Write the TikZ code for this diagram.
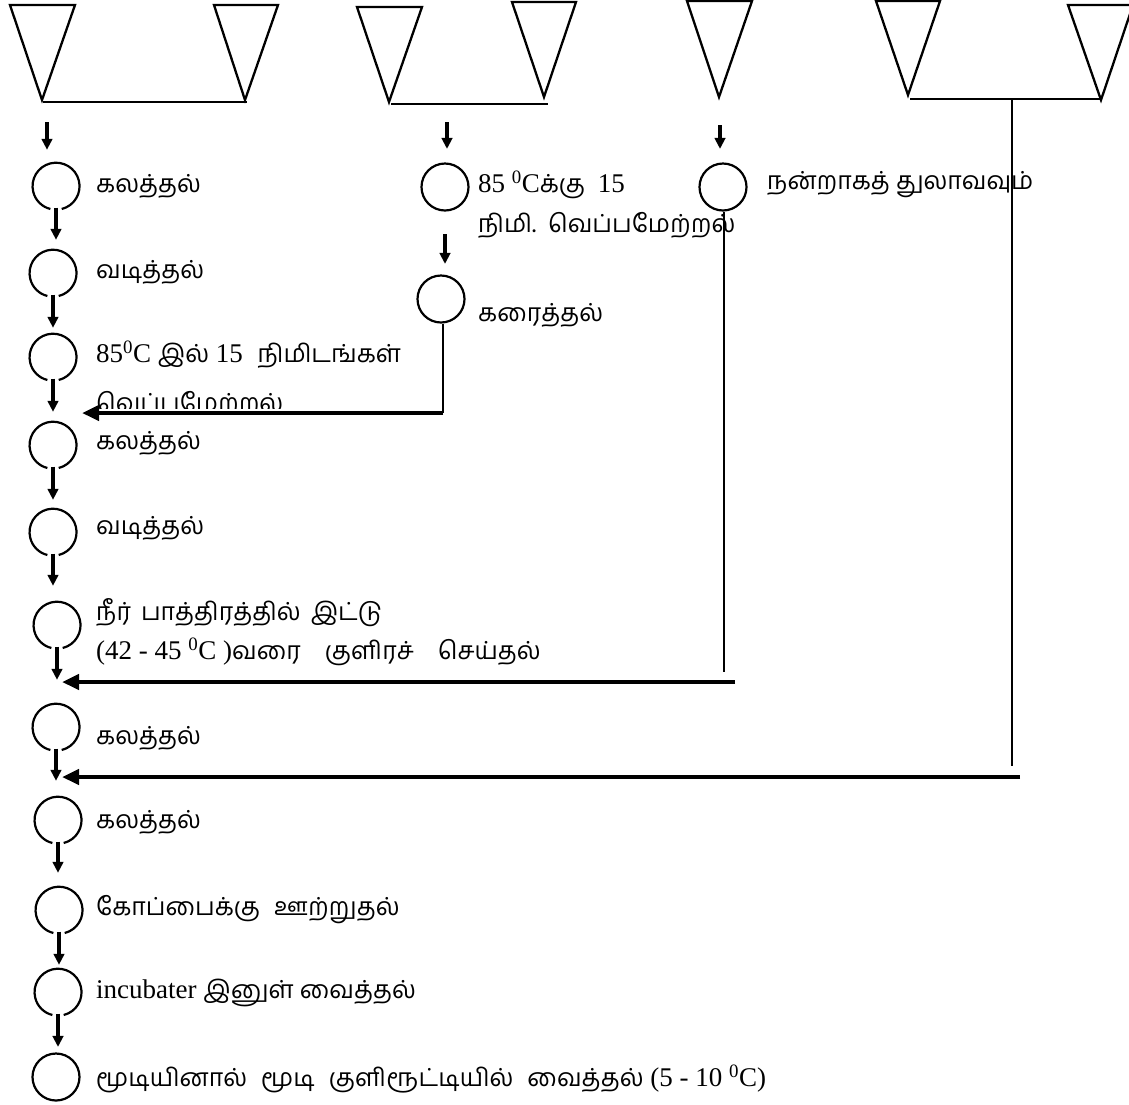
\documentclass[tikz,border=0pt]{standalone}
\usepackage{fontspec}
\setmainfont{Liberation Serif}
\newfontfamily\tamfont[Script=Tamil,Scale=0.92]{Hind Madurai}
\newcommand\tmx[1]{{\tamfont #1}}
\usetikzlibrary{arrows.meta}
\begin{document}
\begin{tikzpicture}[x=1pt,y=-1pt,
  tri/.style={draw, line width=2.3pt, line join=miter},
  bar/.style={line width=2.8pt},
  vline/.style={line width=2pt},
  darr/.style={line width=3.5pt, -{Triangle[length=11pt,width=10.5pt]}},
  harr/.style={line width=4.5pt, -{Triangle[length=17pt,width=15pt]}},
  ring/.style={circle, minimum size=47pt, inner sep=0pt},
  ringfull/.style={ring, draw, line width=2.2pt},
  gapline/.style={line width=2.2pt},
  lbl/.style={anchor=west, inner sep=0pt, font=\fontsize{27}{32}\selectfont},
]
\clip (0,0) rectangle (1129,1104);
\fill[white] (0,0) rectangle (1129,1104);

% ---------- triangles ----------
\draw[tri] (10,5) -- (75,5) -- (42,100) -- cycle;
\draw[tri] (214,5) -- (278,5) -- (245,100) -- cycle;
\draw[tri] (357,7) -- (422,7) -- (389,102) -- cycle;
\draw[tri] (512,2) -- (576,2) -- (544,97) -- cycle;
\draw[tri] (687,1) -- (752,1) -- (719,97) -- cycle;
\draw[tri] (876,1) -- (940,1) -- (908,95) -- cycle;
\draw[tri] (1068,5) -- (1133,5) -- (1101,100) -- cycle;

% ---------- bars under triangle pairs ----------
\coordinate (b1a) at (43,102);
\coordinate (b1b) at (247,102);
\coordinate (b2a) at (391,104);
\coordinate (b2b) at (548,104);
\coordinate (b3a) at (910,99);
\coordinate (b3b) at (1102,99);
\coordinate (b3) at (1012,99);
\draw[bar] (b1a) -- (b1b);
\draw[bar] (b2a) -- (b2b);
\draw[bar] (b3a) -- (b3b);

% ---------- circles ----------
\node[ring] (c1) at (56,186) {};
\node[ring] (c2) at (53,273) {};
\node[ring] (c3) at (53,357) {};
\node[ring] (c4) at (53,445) {};
\node[ring] (c5) at (53,532) {};
\node[ring] (c6) at (57,625) {};
\node[ring] (c7) at (56,727) {};
\node[ring] (c8) at (58,820) {};
\node[ring] (c9) at (59,910) {};
\node[ring] (c10) at (58,992) {};
\node[ringfull] (c11) at (56,1077) {};
\node[ringfull] (m1) at (445,187) {};
\node[ringfull] (m2) at (441,299) {};
\node[ringfull] (r1) at (723,187) {};
\foreach \c in {c1,c2,c3,c4,c5,c6,c7,c8,c9,c10}{
  \draw[gapline] (\c.-76) arc[start angle=-76, end angle=256, radius=23.5pt];
}

% ---------- labels ----------
\node[lbl] (t1) at (96,186) {\tmx{கலத்தல்}};
\node[lbl] (t2) at (96,272) {\tmx{வடித்தல்}};
\node[lbl] (t3a) at (96,355) {85\textsuperscript{0}C \tmx{இல்} 15\hspace{8pt} \tmx{நிமிடங்கள்}};
\begin{scope}
  \clip (90,370) rectangle (430,408);
  \node[lbl] (t3b) at (96,404) {\tmx{வெப்பமேற்றல்}};
\end{scope}
\node[lbl] (t4) at (96,443) {\tmx{கலத்தல்}};
\node[lbl] (t5) at (96,528) {\tmx{வடித்தல்}};
\node[lbl] (t6a) at (96,613) {\tmx{நீர்\hspace{4pt} பாத்திரத்தில்\hspace{4pt} இட்டு}};
\node[lbl] (t6b) at (96,652) {(42 - 45 \textsuperscript{0}C )\tmx{வரை\hspace{18pt} குளிரச்\hspace{18pt} செய்தல்}};
\node[lbl] (t7) at (96,738) {\tmx{கலத்தல்}};
\node[lbl] (t8) at (96,822) {\tmx{கலத்தல்}};
\node[lbl] (t9) at (96,910) {\tmx{கோப்பைக்கு\hspace{8pt} ஊற்றுதல்}};
\node[lbl] (t10) at (96,993) {incubater \tmx{இனுள் வைத்தல்}};
\node[lbl] (t11) at (96,1079) {\tmx{மூடியினால்\hspace{8pt} மூடி\hspace{8pt} குளிரூட்டியில்\hspace{8pt} வைத்தல்} (5 - 10 \textsuperscript{0}C)};
\node[lbl] (tm1a) at (478,185) {85 \textsuperscript{0}C\tmx{க்கு}\hspace{6pt} 15};
\node[lbl] (tm1b) at (478,225) {\tmx{நிமி.\hspace{4pt} வெப்பமேற்றல்}};
\node[lbl] (tm2) at (478,315) {\tmx{கரைத்தல்}};
\node[lbl] (tr1) at (767,185) {\tmx{நன்றாகத் துலாவவும்}};

% ---------- vertical flow arrows ----------
\coordinate (p1) at (47,122);
\coordinate (p2) at (447,122);
\coordinate (p3) at (720,125);
\draw[darr, shorten >=12.5pt] (p1) -- (p1 |- c1.north);
\draw[darr, shorten >=13.5pt] (p2) -- (p2 |- m1.north);
\draw[darr, shorten >=13.5pt] (p3) -- (p3 |- r1.north);
\draw[darr, shorten <=-2pt, shorten >=9.5pt] (c1.south) -- (c1.south |- c2.north);
\draw[darr, shorten <=-2pt, shorten >=5.5pt] (c2.south) -- (c2.south |- c3.north);
\draw[darr, shorten <=-2pt, shorten >=9.5pt] (c3.south) -- (c3.south |- c4.north);
\draw[darr, shorten <=-2pt, shorten >=8.5pt] (c4.south) -- (c4.south |- c5.north);
\draw[darr, shorten <=-2pt, shorten >=15.5pt] (c5.south) -- (c5.south |- c6.north);
\draw[darr, shorten <=-2pt, shorten >=23.5pt] (c6.south) -- (c6.south |- c7.north);
\draw[darr, shorten <=-2pt, shorten >=15.5pt] (c7.south) -- (c7.south |- c8.north);
\draw[darr, shorten <=-2pt, shorten >=13.5pt] (c8.south) -- (c8.south |- c9.north);
\draw[darr, shorten <=-2pt, shorten >=3.5pt] (c9.south) -- (c9.south |- c10.north);
\draw[darr, shorten <=-2pt, shorten >=5.5pt] (c10.south) -- (c10.south |- c11.north);
\draw[darr, shorten <=22.5pt, shorten >=10.5pt] (m1.south) -- (m1.south |- m2.north);

% ---------- return lines ----------
\coordinate (k1) at (443,413);
\coordinate (k1t) at (82,413);
\draw[vline] ([xshift=2pt]m2.south) -- (k1);
\draw[harr] (k1) -- (k1t);

\coordinate (k2v) at (724,672);
\coordinate (k2s) at (735,682);
\coordinate (k2t) at (62,682);
\draw[vline] ([xshift=1pt]r1.south) -- (k2v);
\draw[harr] (k2s) -- (k2t);

\coordinate (k3v) at (1012,766);
\coordinate (k3s) at (1020,777);
\coordinate (k3t) at (62,777);
\draw[vline] (b3) -- (k3v);
\draw[harr] (k3s) -- (k3t);
\end{tikzpicture}
\end{document}
